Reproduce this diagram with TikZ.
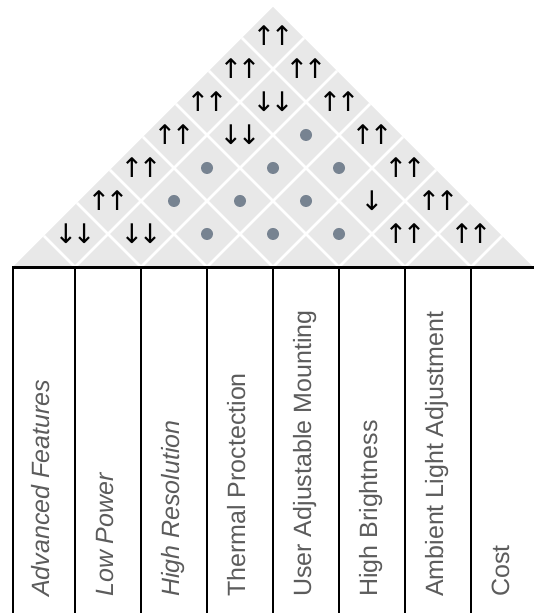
\documentclass[tikz,border=0pt]{standalone}
\usepackage{fontspec}
\setmainfont{Liberation Sans}
\newfontfamily\arrowfont{DejaVu Sans}
\usetikzlibrary{positioning}
\definecolor{roofbg}{HTML}{E8E8E8}
\definecolor{dotgray}{HTML}{778391}
\definecolor{labelgray}{HTML}{5C5C5C}
\newcommand{\uu}{↑\kern-4.5pt↑}
\newcommand{\dd}{↓\kern-4.5pt↓}

\begin{document}
\begin{tikzpicture}[
  x=1pt, y=1pt,
  col/.style={draw, line width=2.2pt, minimum height=346.4pt, inner sep=0pt, outer sep=0pt},
  lbl/.style={rotate=90, anchor=base west, text=labelgray, inner sep=0pt,
    font=\fontsize{25}{28}\selectfont},
  sym/.style={inner sep=0pt, font=\arrowfont\fontsize{27}{30}\selectfont},
  dot/.style={circle, fill=dotgray, minimum size=12pt, inner sep=0pt},
  gridline/.style={white, line width=2.6pt}
]
\useasboundingbox (0,0) rectangle (533,613);

% roof
\fill[roofbg] (13,346) coordinate (bl) -- (273,606) coordinate (apex) -- (533,346) coordinate (br) -- cycle;
\begin{scope}
  \clip (bl) -- (apex) -- (br) -- cycle;
  \foreach \m in {1,...,7}
    \draw[gridline] ({9+66*\m-300},646) -- ({9+66*\m},346) -- ({9+66*\m+300},646);
\end{scope}

% correlations, row by row from the bottom
\node[sym] (c12) at (75,379) {\dd};
\node[sym] (c23) at (141,379) {\dd};
\node[dot] (c34) at (207,379) {};
\node[dot] (c45) at (273,379) {};
\node[dot] (c56) at (339,379) {};
\node[sym] (c67) at (405,379) {\uu};
\node[sym] (c78) at (471,379) {\uu};
\node[sym] (c13) at (108,412) {\uu};
\node[dot] (c24) at (174,412) {};
\node[dot] (c35) at (240,412) {};
\node[dot] (c46) at (306,412) {};
\node[sym] (c57) at (372,412) {↓};
\node[sym] (c68) at (438,412) {\uu};
\node[sym] (c14) at (141,445) {\uu};
\node[dot] (c25) at (207,445) {};
\node[dot] (c36) at (273,445) {};
\node[dot] (c47) at (339,445) {};
\node[sym] (c58) at (405,445) {\uu};
\node[sym] (c15) at (174,478) {\uu};
\node[sym] (c26) at (240,478) {\dd};
\node[dot] (c37) at (306,478) {};
\node[sym] (c48) at (372,478) {\uu};
\node[sym] (c16) at (207,511) {\uu};
\node[sym] (c27) at (273,511) {\dd};
\node[sym] (c38) at (339,511) {\uu};
\node[sym] (c17) at (240,544) {\uu};
\node[sym] (c28) at (306,544) {\uu};
\node[sym] (c18) at (273,577) {\uu};

% columns
\node[col, minimum width=62pt, anchor=south west] (col1) at (13,-0.9) {};
\node[col, minimum width=66pt, right=0pt of col1] (col2) {};
\node[col, minimum width=66pt, right=0pt of col2] (col3) {};
\node[col, minimum width=66pt, right=0pt of col3] (col4) {};
\node[col, minimum width=66pt, right=0pt of col4] (col5) {};
\node[col, minimum width=66pt, right=0pt of col5] (col6) {};
\node[col, minimum width=66pt, right=0pt of col6] (col7) {};
\node[col, minimum width=66pt, right=0pt of col7] (col8) {};

% labels
\node[lbl, font=\fontsize{25}{28}\selectfont\itshape] (l1) at ([xshift=5pt, yshift=16.9pt]col1.south) {Advanced Features};
\node[lbl, font=\fontsize{25}{28}\selectfont\itshape] (l2) at ([xshift=5pt, yshift=16.9pt]col2.south) {Low Power};
\node[lbl, font=\fontsize{25}{28}\selectfont\itshape] (l3) at ([xshift=5pt, yshift=16.9pt]col3.south) {High Resolution};
\node[lbl] (l4) at ([xshift=5pt, yshift=16.9pt]col4.south) {Thermal Proctection};
\node[lbl] (l5) at ([xshift=5pt, yshift=16.9pt]col5.south) {User Adjustable Mounting};
\node[lbl] (l6) at ([xshift=5pt, yshift=16.9pt]col6.south) {High Brightness};
\node[lbl] (l7) at ([xshift=5pt, yshift=16.9pt]col7.south) {Ambient Light Adjustment};
\node[lbl] (l8) at ([xshift=5pt, yshift=16.9pt]col8.south) {Cost};
\end{tikzpicture}
\end{document}
